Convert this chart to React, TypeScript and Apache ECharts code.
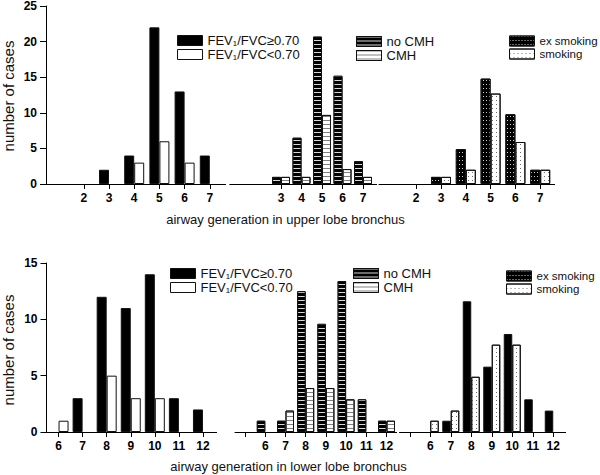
import React, { useEffect, useRef } from "react";
import * as echarts from "echarts";

const FONT = '"Liberation Sans", Arial, Helvetica, sans-serif';

// categories (airway generation)
const upperGenerations = ["1", "2", "3", "4", "5", "6", "7"];
const lowerGenerationsA = ["6", "7", "8", "9", "10", "11", "12"];
const lowerGenerationsB = ["5", "6", "7", "8", "9", "10", "11", "12"];

// series names
const FEV_HIGH = "FEV\u2081/FVC\u22650.70";
const FEV_LOW = "FEV\u2081/FVC<0.70";
const NO_CMH = "no CMH";
const CMH = "CMH";
const EX_SMOKING = "ex smoking";
const SMOKING = "smoking";

// upper lobe values
const upperFevHigh = [0, 0, 2, 4, 22, 13, 4];
const upperFevLow = [0, 0, 0, 3, 6, 3, 0];
const upperNoCmh = [0, 0, 1, 6.5, 20.7, 15.2, 3.2];
const upperCmh = [0, 0, 1, 1, 9.7, 2.1, 1];
const upperEx = [0, 0, 1, 4.9, 14.8, 9.8, 2];
const upperSmoking = [0, 0, 1, 2, 12.7, 5.9, 2];

// lower lobe values
const lowerFevHigh = [0, 3, 12, 11, 14, 3, 2];
const lowerFevLow = [1, 0, 5, 3, 3, 0, 0];
const lowerNoCmh = [0, 1, 1, 12.5, 9.6, 13.4, 2.9, 1];
const lowerCmh = [0, 0, 1.9, 3.9, 3.9, 2.9, 0, 1];
const lowerEx = [0, 0, 1, 11.6, 5.8, 8.7, 2.9, 1.9];
const lowerSmoking = [0, 1, 1.9, 4.9, 7.75, 7.75, 0, 0];

const upperYTicks = [0, 25, 5];
const lowerYTicks = [0, 15, 5];

const stripeDark = {
  symbol: "rect",
  symbolSize: 1,
  color: "#d8d8d8",
  dashArrayX: [10, 0],
  dashArrayY: [1, 3],
  rotation: 0,
};
const stripeLight = {
  symbol: "rect",
  symbolSize: 1,
  color: "#808080",
  dashArrayX: [10, 0],
  dashArrayY: [1, 3],
  rotation: 0,
};
const dotsDark = {
  symbol: "rect",
  symbolSize: 1,
  color: "#cfcfcf",
  dashArrayX: [1, 2],
  dashArrayY: [1, 3],
  rotation: 0,
};
const dotsLight = {
  symbol: "rect",
  symbolSize: 1,
  color: "#707070",
  dashArrayX: [1, 3],
  dashArrayY: [1, 3],
  rotation: 0,
};

function xAxis(gridIndex: number, data: string[], firstLabel: number, firstTick: number) {
  return {
    type: "category",
    gridIndex,
    data,
    boundaryGap: true,
    axisLine: { show: true, lineStyle: { color: "#000", width: 1 } },
    axisTick: {
      show: true,
      alignWithLabel: true,
      length: 5,
      lineStyle: { color: "#000", width: 1 },
      interval: (i: number) => i >= firstTick,
    },
    axisLabel: {
      interval: (i: number) => i >= firstLabel,
      margin: 8,
      fontWeight: "bold",
      fontSize: 12,
      color: "#000",
      fontFamily: FONT,
    },
    splitLine: { show: false },
  };
}

function yAxis(gridIndex: number, ticks: number[], show: boolean) {
  return {
    type: "value",
    gridIndex,
    min: ticks[0],
    max: ticks[1],
    interval: ticks[2],
    show,
    axisLine: { show: true, lineStyle: { color: "#000", width: 1 } },
    axisTick: { show: true, length: 6, lineStyle: { color: "#000" } },
    axisLabel: {
      margin: 9,
      fontWeight: "bold",
      fontSize: 12,
      color: "#000",
      fontFamily: FONT,
    },
    splitLine: { show: false },
  };
}

function bar(
  name: string,
  idx: number,
  data: number[],
  width: number,
  fill: string,
  decal?: any
) {
  return {
    type: "bar",
    name,
    xAxisIndex: idx,
    yAxisIndex: idx,
    // empty classes are not drawn (no border on the axis line)
    data: data.map((v) => (v === 0 ? null : v)),
    barWidth: width,
    barGap: "0%",
    itemStyle: {
      color: fill,
      borderColor: "#111",
      borderWidth: 1,
      ...(decal ? { decal } : {}),
    },
  };
}

function legend(names: string[], left: number, top: number, gap: number, size: number) {
  return {
    orient: "vertical",
    left,
    top,
    padding: 0,
    itemGap: gap,
    itemWidth: 25,
    itemHeight: 10,
    icon: "rect",
    selectedMode: false,
    data: names,
    textStyle: {
      fontSize: size,
      lineHeight: 12,
      color: "#111",
      fontFamily: FONT,
    },
    itemStyle: { borderColor: "#111", borderWidth: 1 },
  };
}

function axisLineExt(x1: number, x2: number, y: number) {
  return {
    type: "line",
    shape: { x1, y1: y, x2, y2: y },
    style: { stroke: "#000", lineWidth: 1 },
  };
}

export default function App() {
  const ref = useRef<HTMLDivElement>(null);
  useEffect(() => {
    if (!ref.current) return;
    const chart = echarts.init(ref.current, undefined, { renderer: "svg" });
    const upperTop = 6;
    const upperH = 178;
    const lowerTop = 263;
    const lowerH = 169;
    chart.setOption({
      animation: false,
      backgroundColor: "#fff",
      grid: [
        { left: 46, top: upperTop, width: 176.4, height: upperH },
        { left: 229.75, top: upperTop, width: 143.5, height: upperH },
        { left: 379, top: upperTop, width: 173.6, height: upperH },
        { left: 46.5, top: lowerTop, width: 168.5, height: lowerH },
        { left: 235, top: lowerTop, width: 161.6, height: lowerH },
        { left: 399.5, top: lowerTop, width: 164, height: lowerH },
      ],
      xAxis: [
        xAxis(0, upperGenerations, 1, 1),
        xAxis(1, upperGenerations, 2, 2),
        xAxis(2, upperGenerations, 1, 1),
        xAxis(3, lowerGenerationsA, 0, 0),
        xAxis(4, lowerGenerationsB, 1, 0),
        xAxis(5, lowerGenerationsB, 1, 0),
      ],
      yAxis: [
        yAxis(0, upperYTicks, true),
        yAxis(1, upperYTicks, false),
        yAxis(2, upperYTicks, false),
        yAxis(3, lowerYTicks, true),
        yAxis(4, lowerYTicks, false),
        yAxis(5, lowerYTicks, false),
      ],
      legend: [
        legend([FEV_HIGH, FEV_LOW], 177, 34, 1, 13),
        legend([NO_CMH, CMH], 356, 35, 1, 13),
        legend([EX_SMOKING, SMOKING], 509, 35, 1, 11.5),
        legend([FEV_HIGH, FEV_LOW], 170, 267, 1, 13),
        legend([NO_CMH, CMH], 353, 267, 1, 13),
        legend([EX_SMOKING, SMOKING], 506, 270, 1, 11.5),
      ],
      series: [
        bar(FEV_HIGH, 0, upperFevHigh, 10, "#000"),
        bar(FEV_LOW, 0, upperFevLow, 10, "#fff"),
        bar(NO_CMH, 1, upperNoCmh, 9, "#000", stripeDark),
        bar(CMH, 1, upperCmh, 9, "#fff", stripeLight),
        bar(EX_SMOKING, 2, upperEx, 10, "#000", dotsDark),
        bar(SMOKING, 2, upperSmoking, 10, "#fff", dotsLight),
        bar(FEV_HIGH, 3, lowerFevHigh, 10, "#000"),
        bar(FEV_LOW, 3, lowerFevLow, 10, "#fff"),
        bar(NO_CMH, 4, lowerNoCmh, 8.5, "#000", stripeDark),
        bar(CMH, 4, lowerCmh, 8.5, "#fff", stripeLight),
        bar(EX_SMOKING, 5, lowerEx, 8.5, "#000"),
        bar(SMOKING, 5, lowerSmoking, 8.5, "#fff", dotsLight),
      ],
      graphic: [
        axisLineExt(222, 226, 184.5),
        axisLineExt(373, 377, 184.5),
        axisLineExt(552, 555, 184.5),
        axisLineExt(215, 217, 432.5),
        axisLineExt(563, 566, 432.5),
        {
          type: "text",
          x: 8,
          y: 96,
          rotation: Math.PI / 2,
          style: {
            text: "number of cases",
            fontSize: 15,
            fontFamily: FONT,
            fill: "#111",
            align: "center",
            verticalAlign: "middle",
          },
        },
        {
          type: "text",
          x: 8,
          y: 350,
          rotation: Math.PI / 2,
          style: {
            text: "number of cases",
            fontSize: 15,
            fontFamily: FONT,
            fill: "#111",
            align: "center",
            verticalAlign: "middle",
          },
        },
        {
          type: "text",
          x: 285.5,
          y: 219,
          style: {
            text: "airway generation in upper lobe bronchus",
            fontSize: 13,
            fontFamily: FONT,
            fill: "#111",
            align: "center",
            verticalAlign: "middle",
          },
        },
        {
          type: "text",
          x: 288.5,
          y: 466,
          style: {
            text: "airway generation in lower lobe bronchus",
            fontSize: 13,
            fontFamily: FONT,
            fill: "#111",
            align: "center",
            verticalAlign: "middle",
          },
        },
      ],
    });
    return () => chart.dispose();
  }, []);
  return (
    <div
      ref={ref}
      style={{ width: 600, height: 475, position: "absolute", left: 0, top: 0 }}
    />
  );
}
